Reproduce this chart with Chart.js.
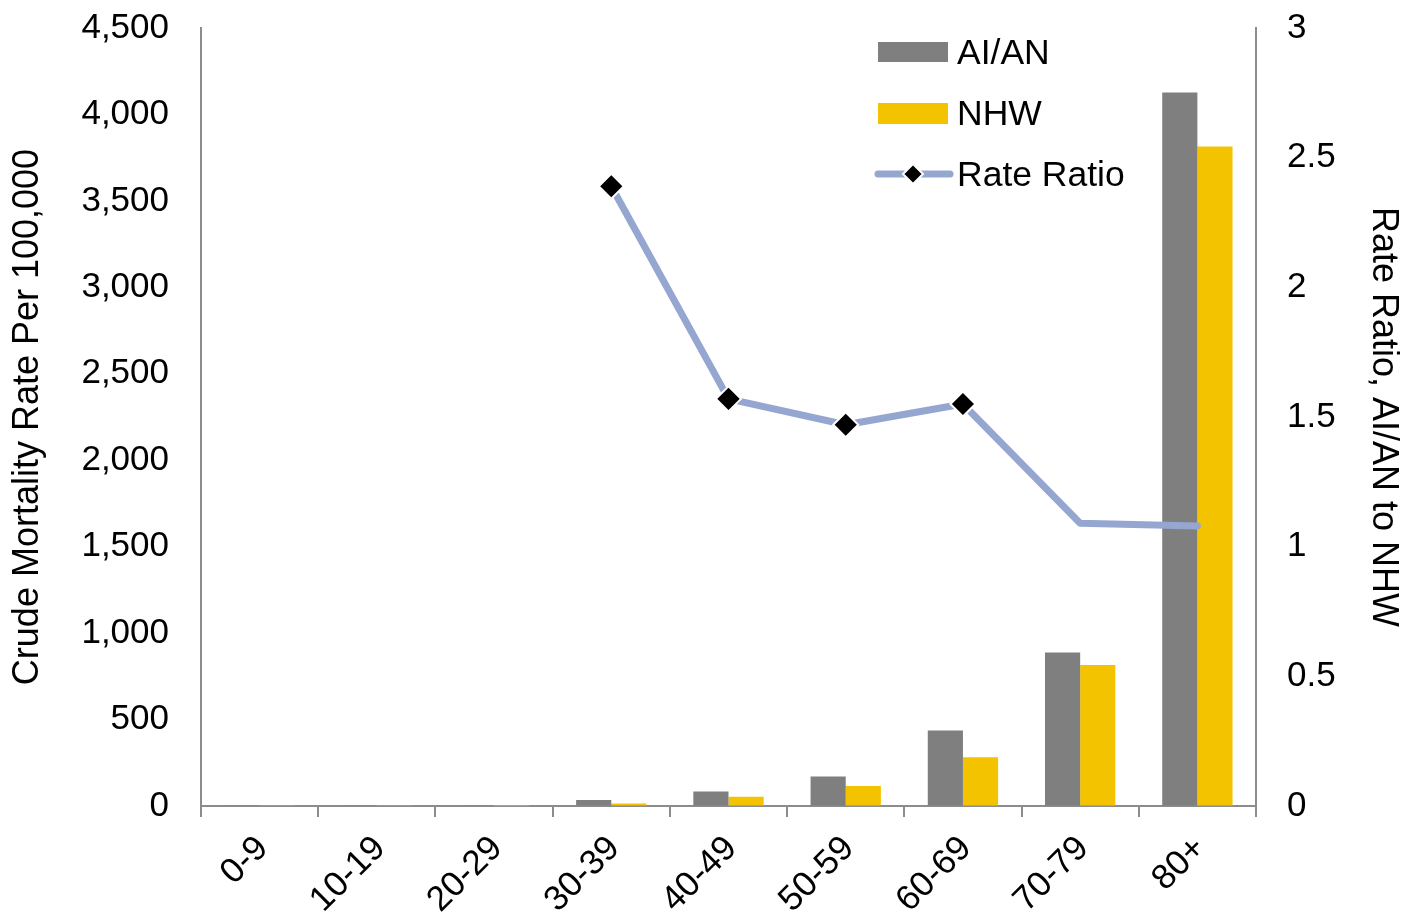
<!DOCTYPE html>
<html>
<head>
<meta charset="utf-8">
<script src="https://cdn.jsdelivr.net/npm/chart.js@4/dist/chart.umd.min.js"></script>
<style>
  html, body { margin: 0; padding: 0; background: #ffffff; }
  #wrap { width: 1405px; height: 917px; }
</style>
</head>
<body>
<div id="wrap"><canvas id="chart" width="1405" height="917"></canvas></div>
<script>
// Age groups and crude mortality rates per 100,000
const ageGroups = ['0-9', '10-19', '20-29', '30-39', '40-49', '50-59', '60-69', '70-79', '80+'];
const aianRates = [1, 1, 2, 34, 84, 171, 437, 888, 4127];
const nhwRates = [2, 2, 6, 14, 53, 115, 282, 815, 3815];
// AI/AN to NHW rate ratio (not reported for the youngest groups)
const rateRatio = [null, null, null, 2.39, 1.57, 1.47, 1.55, 1.09, 1.08];
const ratioMarkerRadius = [0, 0, 0, 12.5, 12.5, 12.5, 12.5, 0, 0];

const leftTicks = [0, 500, 1000, 1500, 2000, 2500, 3000, 3500, 4000, 4500];
const rightTicks = [0, 0.5, 1, 1.5, 2, 2.5, 3];

const FONT = 'Liberation Sans, Arial, sans-serif';
const AXIS_COLOR = '#8c8c8c';
const GRAY = '#7f7f7f';
const GOLD = '#f4c300';
const RATIO_BLUE = '#95a6d1';

// Legend drawn inside the plot, upper right
const insideLegend = {
  id: 'insideLegend',
  afterDraw(chart) {
    const ctx = chart.ctx;
    const ds = chart.data.datasets;
    ctx.save();
    const x0 = 878, sw = 70;
    // bar swatches
    ctx.fillStyle = ds[1].backgroundColor;
    ctx.fillRect(x0, 42, sw, 20);
    ctx.fillStyle = ds[2].backgroundColor;
    ctx.fillRect(x0, 103, sw, 21);
    // line swatch with marker
    ctx.strokeStyle = ds[0].borderColor;
    ctx.lineWidth = 7;
    ctx.lineCap = 'round';
    ctx.beginPath();
    ctx.moveTo(x0, 174);
    ctx.lineTo(x0 + sw + 2, 174);
    ctx.stroke();
    const cx = x0 + 35, cy = 174, r = 10;
    ctx.beginPath();
    ctx.moveTo(cx - r, cy);
    ctx.lineTo(cx, cy - r);
    ctx.lineTo(cx + r, cy);
    ctx.lineTo(cx, cy + r);
    ctx.closePath();
    ctx.fillStyle = '#000000';
    ctx.fill();
    ctx.lineWidth = 2;
    ctx.strokeStyle = '#ffffff';
    ctx.stroke();
    // labels
    ctx.fillStyle = '#000000';
    ctx.font = '35.5px ' + FONT;
    ctx.textAlign = 'left';
    ctx.textBaseline = 'alphabetic';
    ctx.fillText(ds[1].label, 957, 64);
    ctx.fillText(ds[2].label, 957, 125);
    ctx.fillText(ds[0].label, 957, 186);
    ctx.restore();
  }
};

// Fixed-size value axes; tick labels may extend past the plot edges
function fixVerticalAxis(width) {
  return function (s) {
    s.width = width;
    s.paddingTop = 0;
    s.paddingBottom = 0;
  };
}

new Chart(document.getElementById('chart'), {
  data: {
    labels: ageGroups,
    datasets: [
      {
        type: 'line',
        label: 'Rate Ratio',
        data: rateRatio,
        yAxisID: 'y1',
        order: 0,
        borderColor: RATIO_BLUE,
        borderWidth: 7,
        borderCapStyle: 'round',
        borderJoinStyle: 'round',
        tension: 0,
        pointStyle: 'rectRot',
        pointRadius: ratioMarkerRadius,
        pointHoverRadius: ratioMarkerRadius,
        pointBackgroundColor: '#000000',
        pointBorderColor: '#ffffff',
        pointBorderWidth: 2,
        spanGaps: false
      },
      {
        type: 'bar',
        label: 'AI/AN',
        data: aianRates,
        yAxisID: 'y',
        order: 1,
        backgroundColor: GRAY,
        categoryPercentage: 0.6,
        barPercentage: 1.0
      },
      {
        type: 'bar',
        label: 'NHW',
        data: nhwRates,
        yAxisID: 'y',
        order: 2,
        backgroundColor: GOLD,
        categoryPercentage: 0.6,
        barPercentage: 1.0
      }
    ]
  },
  options: {
    responsive: false,
    animation: false,
    layout: { autoPadding: false, padding: { top: 28, left: 0, right: 0, bottom: 0 } },
    plugins: {
      legend: { display: false },
      tooltip: { enabled: false }
    },
    scales: {
      x: {
        offset: true,
        afterFit(s) { s.height = 111; },
        border: { display: true, color: AXIS_COLOR, width: 2 },
        grid: {
          display: true,
          offset: true,
          drawOnChartArea: false,
          drawTicks: true,
          tickLength: 11,
          color: AXIS_COLOR,
          lineWidth: 2
        },
        ticks: {
          color: '#000000',
          font: { family: FONT, size: 35 },
          minRotation: 45,
          maxRotation: 45,
          autoSkip: false,
          labelOffset: 3,
          padding: 11
        }
      },
      y: {
        position: 'left',
        min: 0,
        max: 4500,
        afterFit: fixVerticalAxis(201),
        afterBuildTicks(s) { s.ticks = leftTicks.map(v => ({ value: v })); },
        border: { display: true, color: AXIS_COLOR, width: 2 },
        grid: { display: true, drawOnChartArea: false, drawTicks: false },
        ticks: {
          color: '#000000',
          font: { family: FONT, size: 35 },
          padding: 32,
          callback: v => v.toLocaleString('en-US')
        },
        title: {
          display: true,
          text: 'Crude Mortality Rate Per 100,000',
          color: '#000000',
          font: { family: FONT, size: 36 },
          padding: { top: 6, bottom: 0 }
        }
      },
      y1: {
        position: 'right',
        min: 0,
        max: 3,
        afterFit: fixVerticalAxis(149),
        afterBuildTicks(s) { s.ticks = rightTicks.map(v => ({ value: v })); },
        border: { display: true, color: AXIS_COLOR, width: 2 },
        grid: { display: true, drawOnChartArea: false, drawTicks: false },
        ticks: {
          color: '#000000',
          font: { family: FONT, size: 35 },
          padding: 31,
          callback: v => String(v)
        },
        title: {
          display: true,
          text: 'Rate Ratio, AI/AN to NHW',
          color: '#000000',
          font: { family: FONT, size: 36 },
          padding: { top: 0, bottom: 0 }
        }
      }
    }
  },
  plugins: [insideLegend]
});
</script>
</body>
</html>
